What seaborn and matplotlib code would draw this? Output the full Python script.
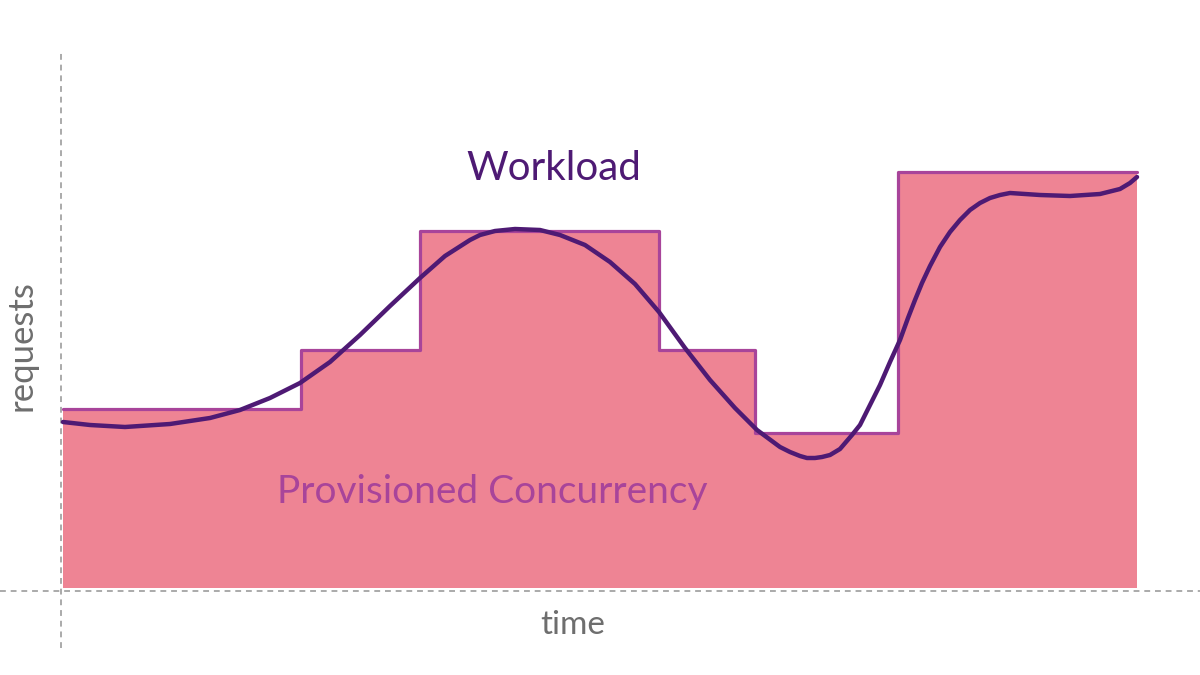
import matplotlib
matplotlib.use("Agg")
import matplotlib.pyplot as plt
import seaborn as sns
import pandas as pd

# Provisioned concurrency steps (edges in time units, levels in requests)
step_edges = [2, 240, 359, 598, 694, 837, 1076]
step_levels = [182, 241, 360, 241, 158, 419]

# Workload curve (time, requests)
work_t = [2, 29, 64, 109, 149, 179, 209, 239, 269, 299, 329, 359, 384, 409, 419, 434, 454,
          479, 499, 524, 549, 574, 598, 624, 649, 674, 696, 719, 729, 739, 746, 754, 761,
          769, 779, 791, 799, 809, 819, 829, 839, 847, 854, 861, 869, 879, 889, 899, 909,
          919, 929, 939, 949, 964, 979, 1009, 1039, 1059, 1069, 1076]
work_r = [169, 166, 164, 167, 173, 181, 193, 208, 229, 256, 285, 313, 335, 351, 356, 360, 362,
          361, 356, 346, 329, 307, 279, 243, 211, 183, 161, 144, 139, 135, 133, 133, 134,
          136, 142, 156, 166, 186, 206, 229, 251, 273, 291, 308, 325, 344, 359, 371, 381,
          388, 393, 396, 398, 397, 396, 395, 397, 402, 408, 414]

FILL = "#EE8494"
EDGE = "#A8449A"
CURVE = "#4E1A74"
GREY = "#6E6E6E"
DASH = "#AAAAAA"

sns.set_theme(style="white")
plt.rcParams['font.family'] = ['Lato', 'DejaVu Sans']

fig = plt.figure(figsize=(12, 6.75), dpi=100)
ax = fig.add_axes([0, 0, 1, 1])
ax.set_xlim(-61, 1139)
ax.set_ylim(-84, 591)
ax.axis("off")

# step area
levels_ext = step_levels + [step_levels[-1]]
ax.fill_between(step_edges, 3, levels_ext, step="post", color=FILL, linewidth=0, zorder=1)
step_df = pd.DataFrame({"t": step_edges, "r": levels_ext})
sns.lineplot(data=step_df, x="t", y="r", ax=ax, drawstyle="steps-post", color=EDGE,
             linewidth=2.3, zorder=2, estimator=None, sort=False)

# workload curve
work_df = pd.DataFrame({"t": work_t, "r": work_r})
sns.lineplot(data=work_df, x="t", y="r", ax=ax, color=CURVE, linewidth=3.2,
             zorder=3, estimator=None, sort=False, solid_joinstyle="round",
             solid_capstyle="round")

# dashed axes
ax.plot([-61, 1139], [0, 0], color=DASH, linestyle=(0, (3, 2.5)), linewidth=1.4, zorder=0)
ax.plot([0, 0], [-57, 541], color=DASH, linestyle=(0, (3, 2.5)), linewidth=1.4, zorder=0)

ax.text(493, 423, "Workload", color=CURVE, fontsize=29,
        ha="center", va="center")
ax.text(431, 99, "Provisioned Concurrency", color=EDGE, fontsize=28,
        ha="center", va="center")
ax.text(512, -34, "time", color=GREY, fontsize=24,
        ha="center", va="center")
ax.text(-39, 245, "requests", color=GREY, fontsize=25,
        ha="center", va="center", rotation=90)

fig.savefig("out.png", dpi=100, facecolor="white")
